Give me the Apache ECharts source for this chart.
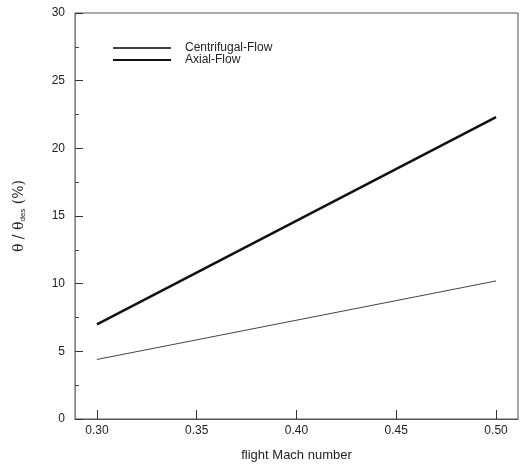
<!DOCTYPE html>
<html><head><meta charset="utf-8">
<script src="https://cdn.jsdelivr.net/npm/echarts@6/dist/echarts.min.js"></script>
<style>html,body{margin:0;padding:0;background:#fff}#c{width:527px;height:468px}</style>
</head><body><div id="c"></div>
<script>
const machNumbers = [0.30, 0.50];
const centrifugalFlow = [4.4, 10.2];
const axialFlow = [7.0, 22.3];
const xTicks = [0.30, 0.35, 0.40, 0.45, 0.50];
const seriesNames = ['Centrifugal-Flow', 'Axial-Flow'];

const chart = echarts.init(document.getElementById('c'));
const font = 'Liberation Sans, Arial, sans-serif';
chart.setOption({
  animation: false,
  backgroundColor: '#fff',
  grid: {left: 75, top: 13, right: 9, bottom: 49, show: true, borderColor: '#555', borderWidth: 1},
  legend: {
    orient: 'vertical', left: 107, top: 37, itemWidth: 58, itemHeight: 8, itemGap: 0,
    data: seriesNames,
    itemStyle: {opacity: 0},
    textStyle: {fontFamily: font, fontSize: 12, color: '#222', lineHeight: 11, padding: [0, 0, 0, 9]}
  },
  xAxis: {
    type: 'value', min: 0.289, max: 0.511,
    axisLine: {lineStyle: {color: '#555'}},
    axisTick: {inside: true, length: 9, lineStyle: {color: '#333'}, customValues: xTicks},
    axisLabel: {fontFamily: font, fontSize: 12, color: '#222', margin: 6, customValues: xTicks,
      formatter: v => v.toFixed(2)},
    splitLine: {show: false},
    name: 'flight Mach number', nameLocation: 'middle', nameGap: 30,
    nameTextStyle: {fontFamily: font, fontSize: 13, color: '#222'}
  },
  yAxis: {
    type: 'value', min: 0, max: 30, interval: 5,
    axisLine: {lineStyle: {color: '#777', type: 'dotted'}},
    axisTick: {inside: true, length: 8, lineStyle: {color: '#333'}},
    minorTick: {show: true, splitNumber: 2, length: 4, lineStyle: {color: '#444'}},
    axisLabel: {fontFamily: font, fontSize: 12, color: '#222', margin: 10},
    splitLine: {show: false},
    name: 'θ / θ{sub|des} (%)', nameLocation: 'middle', nameGap: 48, nameRotate: 90,
    nameTextStyle: {fontFamily: 'DejaVu Serif, serif', fontSize: 14, color: '#222',
      rich: {sub: {fontSize: 8, verticalAlign: 'bottom', padding: [8, 0, 0, 0], fontFamily: font}}}
  },
  series: [
    {name: seriesNames[0], type: 'line', symbol: 'none', data: machNumbers.map((m, i) => [m, centrifugalFlow[i]]),
      lineStyle: {color: '#444', width: 1}, itemStyle: {color: '#444'}},
    {name: seriesNames[1], type: 'line', symbol: 'none', data: machNumbers.map((m, i) => [m, axialFlow[i]]),
      lineStyle: {color: '#111', width: 2.5}, itemStyle: {color: '#111'}}
  ]
});
</script></body></html>
